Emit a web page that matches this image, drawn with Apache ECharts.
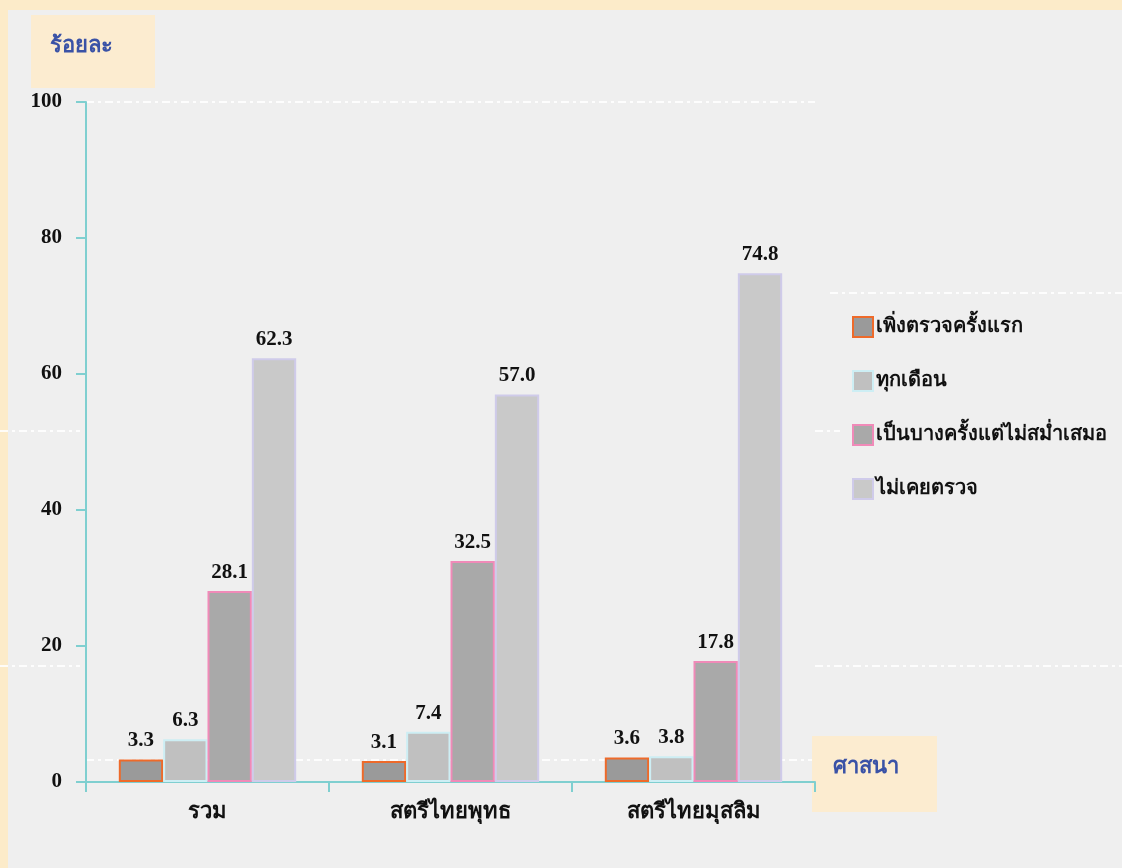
<!DOCTYPE html>
<html><head><meta charset="utf-8">
<script src="https://cdn.jsdelivr.net/npm/echarts@6/dist/echarts.min.js"></script>
<style>html,body{margin:0;padding:0;background:#fcebc9;}#c{width:1122px;height:868px;}</style>
</head><body><div id="c"></div>
<script>
const categories = ['รวม', 'สตรีไทยพุทธ', 'สตรีไทยมุสลิม'];
const seriesNames = ['เพิ่งตรวจครั้งแรก', 'ทุกเดือน', 'เป็นบางครั้งแต่ไม่สม่ำเสมอ', 'ไม่เคยตรวจ'];
const firstTime = [3.3, 3.1, 3.6];
const monthly = [6.3, 7.4, 3.8];
const sometimes = [28.1, 32.5, 17.8];
const never = [62.3, 57.0, 74.8];
const yTicks = [0, 20, 40, 60, 80, 100];

const fills = ['#9a9a9a', '#c0c0c0', '#a9a9a9', '#c9c9c9'];
const borders = ['#ee6a2a', '#cdeef4', '#f08ab8', '#cfcbea'];
const values = [firstTime, monthly, sometimes, never];
const serif = '"Liberation Serif","Times New Roman",serif';

const chart = echarts.init(document.getElementById('c'));
const dashLines = [
  [86, 102, 815], [830, 293, 1122], [0, 431, 80], [815, 431, 840], [0, 666, 80], [815, 666, 1122], [86, 760, 815]
].map(([x1, y, x2]) => ({
  type: 'line', z: -5, silent: true,
  shape: {x1: x1, y1: y, x2: x2, y2: y},
  style: {stroke: '#ffffff', lineWidth: 2, lineDash: [8, 4, 3, 4], opacity: 0.85}
}));

chart.setOption({
  backgroundColor: '#fcebc9',
  animation: false,
  graphic: [
    {type: 'rect', z: -10, silent: true, shape: {x: 8, y: 10, width: 1114, height: 858}, style: {fill: '#efefef'}},
    ...dashLines,
    {type: 'rect', z: -4, silent: true, shape: {x: 31, y: 15, width: 124, height: 73}, style: {fill: '#fcecd0'}},
    {type: 'text', z: 5, left: 50, top: 35, style: {text: 'ร้อยละ', fill: '#3a52a6', font: 'bold 22px ' + serif}},
    {type: 'rect', z: -4, silent: true, shape: {x: 812, y: 736, width: 125, height: 76}, style: {fill: '#fcecd0'}},
    {type: 'text', z: 5, left: 833, top: 756, style: {text: 'ศาสนา', fill: '#3a52a6', font: 'bold 22px ' + serif}}
  ],
  legend: {
    orient: 'vertical', left: 847, top: 311, itemGap: 32,
    itemWidth: 20, itemHeight: 20,
    textStyle: {fontFamily: serif, fontWeight: 'bold', fontSize: 20, color: '#111', padding: [0, 0, 0, -2]},
    data: seriesNames.map(n => ({name: n, icon: 'rect'}))
  },
  grid: {left: 86, right: 307, top: 102, bottom: 86, containLabel: false},
  xAxis: {
    type: 'category', data: categories,
    axisLine: {lineStyle: {color: '#7fcfd0', width: 2}},
    axisTick: {show: true, length: 10, lineStyle: {color: '#7fcfd0', width: 2}},
    axisLabel: {margin: 19, fontFamily: serif, fontWeight: 'bold', fontSize: 22, color: '#111'}
  },
  yAxis: {
    type: 'value', min: 0, max: 100, interval: 20,
    axisLine: {show: true, lineStyle: {color: '#7fcfd0', width: 2}},
    axisTick: {show: true, length: 10, lineStyle: {color: '#7fcfd0', width: 2}},
    splitLine: {show: false},
    axisLabel: {margin: 24, fontFamily: serif, fontWeight: 'bold', fontSize: 21, color: '#111',
      formatter: v => yTicks.includes(v) ? String(v) : ''}
  },
  series: seriesNames.map((name, i) => ({
    name: name, type: 'bar', data: values[i],
    barGap: '0%', barCategoryGap: '27%',
    itemStyle: {color: fills[i], borderColor: borders[i], borderWidth: 2},
    label: {show: true, position: 'top', distance: 8, formatter: p => p.value.toFixed(1),
      fontFamily: serif, fontWeight: 'bold', fontSize: 21, color: '#111'}
  }))
});
</script></body></html>
